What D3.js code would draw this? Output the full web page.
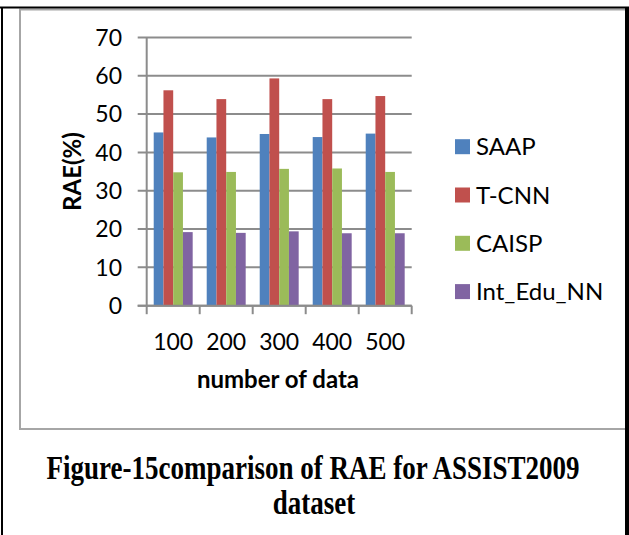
<!DOCTYPE html>
<html>
<head>
<meta charset="utf-8">
<script src="https://cdn.jsdelivr.net/npm/d3@7"></script>
<style>
  html, body { margin: 0; padding: 0; background: #fff; }
  svg { display: block; }
</style>
</head>
<body>
<svg id="chart" width="629" height="535"></svg>
<script>
// Categories (number of data) and RAE values (%) for each method
const categories = ["100", "200", "300", "400", "500"];
const seriesNames = ["SAAP", "T-CNN", "CAISP", "Int_Edu_NN"];
const saap     = [45.2, 43.9, 44.8, 44.0, 44.9];
const tcnn     = [56.2, 53.9, 59.3, 53.9, 54.7];
const caisp    = [34.8, 34.9, 35.7, 35.8, 34.9];
const intEduNN = [19.2, 19.0, 19.4, 18.9, 18.9];
const yTicks   = [0, 10, 20, 30, 40, 50, 60, 70];
const colors   = ["#4F81BD", "#C0504D", "#9BBB59", "#8064A2"];

const seriesValues = [saap, tcnn, caisp, intEduNN];

const svg = d3.select("#chart");
const W = 629, H = 535;
svg.append("rect").attr("width", W).attr("height", H).attr("fill", "#fff");

// Chart area box
svg.append("rect")
  .attr("x", 20).attr("y", 9.5).attr("width", 620).attr("height", 419.5)
  .attr("fill", "#fff").attr("stroke", "#a6a6a6").attr("stroke-width", 2);

// Page frame (table cell borders)
const frame = svg.append("g").attr("stroke", "#000").attr("fill", "none");
frame.append("line").attr("x1", 0).attr("x2", W).attr("y1", 7.5).attr("y2", 7.5).attr("stroke-width", 2);
frame.append("line").attr("x1", 2).attr("x2", 2).attr("y1", 7).attr("y2", H).attr("stroke-width", 2);
frame.append("line").attr("x1", 627).attr("x2", 627).attr("y1", 7).attr("y2", H).attr("stroke-width", 4);

const plot = { left: 146.7, right: 411.7, top: 37.4, bottom: 305.7 };

const y = d3.scaleLinear().domain([0, 70]).range([plot.bottom, plot.top]);
const x0 = d3.scaleBand().domain(categories).range([plot.left, plot.right]).paddingInner(0).paddingOuter(0);
const x1 = d3.scaleBand().domain(seriesNames).range([0, x0.bandwidth()]).paddingInner(0).paddingOuter(0.72);

const gridColor = "#8c8c8c";
const font = "Lato, 'Open Sans', sans-serif";

// Horizontal gridlines with left tick extension
svg.append("g").selectAll("line").data(yTicks).join("line")
  .attr("x1", 137.7).attr("x2", plot.right)
  .attr("y1", d => y(d)).attr("y2", d => y(d))
  .attr("stroke", gridColor).attr("stroke-width", 2);

// Y axis line
svg.append("line")
  .attr("x1", plot.left).attr("x2", plot.left)
  .attr("y1", y(70)).attr("y2", y(0))
  .attr("stroke", gridColor).attr("stroke-width", 2);

// Y tick labels
svg.append("g").selectAll("text").data(yTicks).join("text")
  .attr("x", 122).attr("y", d => y(d))
  .attr("dy", "0.36em")
  .attr("text-anchor", "end")
  .attr("font-family", font).attr("font-size", 23).attr("fill", "#000")
  .text(d => d);

// Bars
const groups = svg.append("g").selectAll("g").data(categories).join("g")
  .attr("transform", c => `translate(${x0(c)},0)`);
groups.selectAll("rect")
  .data((c, ci) => seriesNames.map((s, si) => ({ s, si, v: seriesValues[si][ci] })))
  .join("rect")
  .attr("x", d => x1(d.s))
  .attr("width", x1.bandwidth())
  .attr("y", d => y(d.v))
  .attr("height", d => y(0) - y(d.v))
  .attr("fill", d => colors[d.si]);

// X axis baseline and category tick marks
svg.append("line")
  .attr("x1", 137.7).attr("x2", plot.right)
  .attr("y1", y(0)).attr("y2", y(0))
  .attr("stroke", gridColor).attr("stroke-width", 2);
const tickPos = categories.map(c => x0(c)).concat([x0(categories[categories.length - 1]) + x0.bandwidth()]);
svg.append("g").selectAll("line").data(tickPos).join("line")
  .attr("x1", d => d).attr("x2", d => d)
  .attr("y1", y(0)).attr("y2", y(0) + 8.5)
  .attr("stroke", gridColor).attr("stroke-width", 2);

// X tick labels
svg.append("g").selectAll("text").data(categories).join("text")
  .attr("x", c => x0(c) + x0.bandwidth() / 2)
  .attr("y", 342).attr("dy", "0.36em")
  .attr("text-anchor", "middle")
  .attr("font-family", font).attr("font-size", 23).attr("fill", "#000")
  .text(c => c);

// Axis titles
svg.append("text")
  .attr("x", 278).attr("y", 379).attr("dy", "0.36em")
  .attr("text-anchor", "middle")
  .attr("font-family", font).attr("font-weight", "bold").attr("font-size", 24)
  .text("number of data");

svg.append("text")
  .attr("transform", `translate(72,${(plot.top + plot.bottom) / 2}) rotate(-90)`)
  .attr("dy", "0.36em")
  .attr("text-anchor", "middle")
  .attr("font-family", font).attr("font-weight", "bold").attr("font-size", 24)
  .text("RAE(%)");

// Legend
const legend = svg.append("g").selectAll("g").data(seriesNames).join("g")
  .attr("transform", (s, i) => `translate(455,${146.7 + i * 48.3})`);
legend.append("rect")
  .attr("x", 0).attr("y", -7.5).attr("width", 15).attr("height", 15)
  .attr("fill", (s, i) => colors[i]);
legend.append("text")
  .attr("x", 21).attr("y", 0).attr("dy", "0.36em")
  .attr("font-family", font).attr("font-size", 24).attr("fill", "#000")
  .text(s => s);

// Figure caption (tall bold serif)
const caption = svg.append("g")
  .attr("font-family", "'Liberation Serif', 'Times New Roman', serif")
  .attr("font-weight", "bold").attr("font-size", 27).attr("text-anchor", "middle");
caption.append("text").attr("transform", "translate(313,479) scale(1,1.25)")
  .text("Figure-15comparison of RAE for ASSIST2009");
caption.append("text").attr("transform", "translate(314,514) scale(1,1.25)")
  .text("dataset");
</script>
</body>
</html>
